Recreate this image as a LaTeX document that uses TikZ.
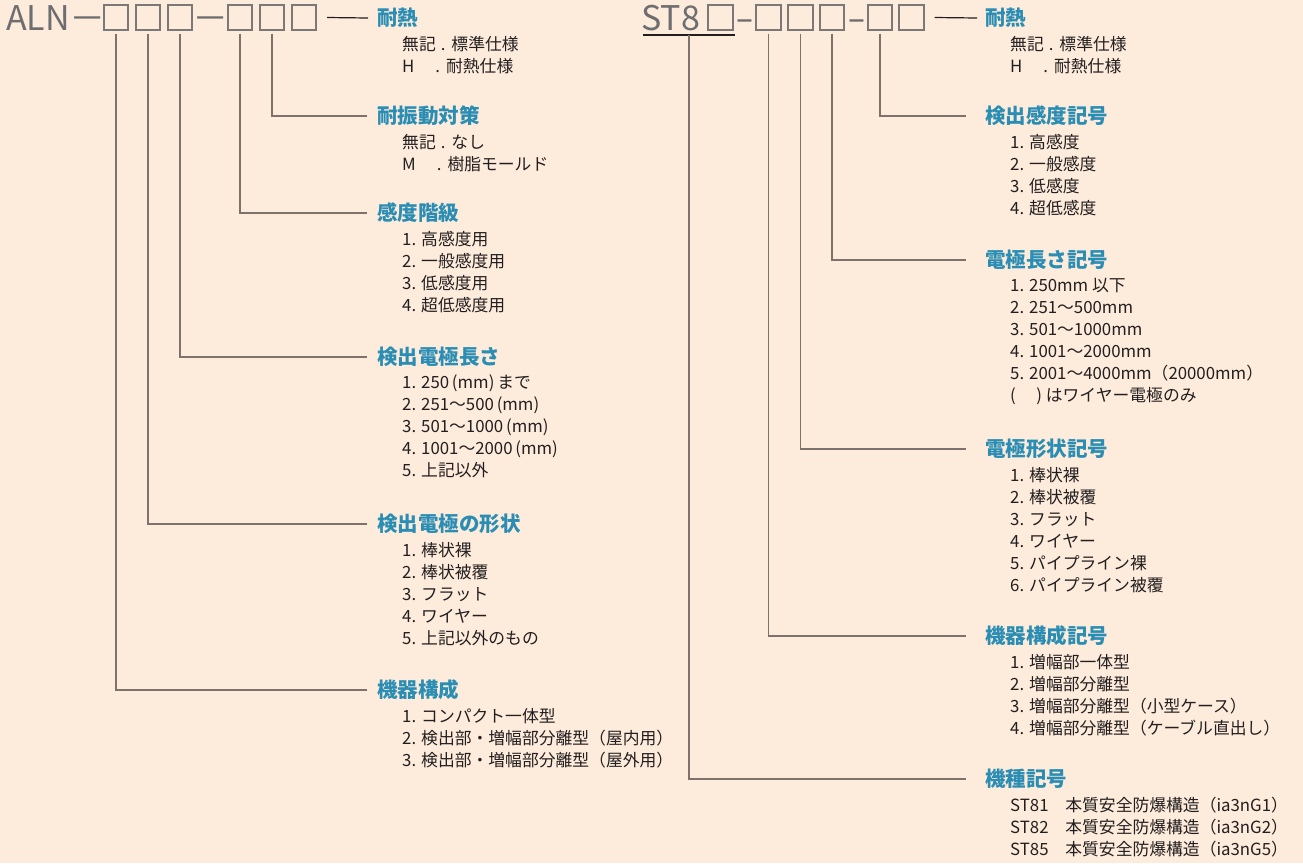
\documentclass[tikz,border=0pt]{standalone}
\usepackage{fontspec}
\setmainfont{Noto Sans CJK JP}
\usepackage{tikz}

\definecolor{paper}{HTML}{FDEBDB}
\definecolor{headblue}{HTML}{2A8DB4}
\definecolor{codegray}{HTML}{6E6E70}
\definecolor{boxgray}{HTML}{7A7879}
\definecolor{leadgray}{HTML}{7D726C}
\definecolor{inkdark}{HTML}{231F20}

\tikzset{
  codetext/.style={inner sep=0pt, text=codegray, font=\fontsize{34}{34}\selectfont},
  codedash/.style={anchor=base, inner sep=0pt, text=codegray, font=\fontsize{34}{34}\selectfont},
  codebox/.style={draw=boxgray, line width=1.6pt, minimum size=24.5pt, inner sep=0pt},
  head/.style={anchor=west, inner sep=0pt, text=headblue, font=\fontsize{20.5}{20.5}\selectfont\bfseries},
  items/.style={anchor=north west, inner sep=0pt, align=left, text=inkdark, font=\fontsize{16.8}{22}\selectfont},
  lead/.style={draw=leadgray, line width=1.2pt},
  darklead/.style={draw=inkdark, line width=1.2pt},
}

\begin{document}
\begin{tikzpicture}[x=1pt, y=-1pt]
  % Background
  \fill[paper] (0,0) rectangle (1303,863);
  \useasboundingbox (0,0) rectangle (1303,863);

  % Left code ALN
  \node[codetext, anchor=west] (aln) at (6,18) {ALN};
  \node[codedash] (adash1) at (87.5,30) {\scalebox{1.6}[1]{−}};
  \node[codebox] (abox1) at (116,17.5) {};
  \node[codebox] (abox2) at (148,17.5) {};
  \node[codebox] (abox3) at (180,17.5) {};
  \node[codedash] (adash2) at (211,30) {\scalebox{1.6}[1]{−}};
  \node[codebox] (abox4) at (240,17.5) {};
  \node[codebox] (abox5) at (272,17.5) {};
  \node[codebox] (abox6) at (304,17.5) {};

  % Left headings
  \node[head] (lheat) at (377,18) {耐熱};
  \node[head] (lvib) at (377,116) {耐振動対策};
  \node[head] (lsens) at (377,213) {感度階級};
  \node[head] (llen) at (377,357) {検出電極長さ};
  \node[head] (lshape) at (377,524) {検出電極の形状};
  \node[head] (lconf) at (377,690) {機器構成};

  % Left items
  \node[items] (lheatitems) at (402,36) {無記\hspace{5pt}.\hspace{6pt}標準仕様\\H\hspace{21pt}.\hspace{6pt}耐熱仕様};
  \node[items] (lvibitems) at (402,134) {無記\hspace{5pt}.\hspace{6pt}なし\\M\hspace{21pt}.\hspace{6pt}樹脂モールド};
  \node[items] (lsensitems) at (402,231) {1. 高感度用\\2. 一般感度用\\3. 低感度用\\4. 超低感度用};
  \node[items] (llenitems) at (402,375) {1. 250\,(mm)\,まで\\2. 251～500\,(mm)\\3. 501～1000\,(mm)\\4. 1001～2000\,(mm)\\5. 上記以外};
  \node[items] (lshapeitems) at (402,542) {1. 棒状裸\\2. 棒状被覆\\3. フラット\\4. ワイヤー\\5. 上記以外のもの};
  \node[items] (lconfitems) at (402,708) {1. コンパクト一体型\\2. 検出部・増幅部分離型（屋内用）\\3. 検出部・増幅部分離型（屋外用）};

  % Left leaders
  \draw[darklead] ([xshift=10pt]abox6.east) -- ([xshift=-9pt]lheat.west);
  \draw[lead] ([yshift=-3pt]abox5.south) |- ([xshift=-10pt]lvib.west);
  \draw[lead] ([yshift=-3pt]abox4.south) |- ([xshift=-10pt]lsens.west);
  \draw[lead] ([yshift=-3pt]abox3.south) |- ([xshift=-10pt]llen.west);
  \draw[lead] ([yshift=-3pt]abox2.south) |- ([xshift=-10pt]lshape.west);
  \draw[lead] ([yshift=-3pt]abox1.south) |- ([xshift=-10pt]lconf.west);

  % Right code ST8
  \node[codetext, anchor=west] (st8) at (641,18) {ST8};
  \node[codebox] (sbox1) at (720.5,17.5) {};
  \node[codedash] (sdash1) at (745,30) {\scalebox{1.6}[1]{-}};
  \node[codebox] (sbox2) at (768.5,17.5) {};
  \node[codebox] (sbox3) at (800.5,17.5) {};
  \node[codebox] (sbox4) at (832,17.5) {};
  \node[codedash] (sdash2) at (856.5,30) {\scalebox{1.6}[1]{-}};
  \node[codebox] (sbox5) at (880,17.5) {};
  \node[codebox] (sbox6) at (911.5,17.5) {};
  \coordinate (ulleft) at (643,35);
  \coordinate (ulmid) at (689,35);
  \coordinate (ulright) at (735,35);
  \draw[darklead] (ulleft) -- (ulright);

  % Right headings
  \node[head] (rheat) at (985,18) {耐熱};
  \node[head] (rsens) at (985,116) {検出感度記号};
  \node[head] (rlen) at (985,260) {電極長さ記号};
  \node[head] (rshape) at (985,449) {電極形状記号};
  \node[head] (rconf) at (985,636) {機器構成記号};
  \node[head] (rtype) at (985,779) {機種記号};

  % Right items
  \node[items] (rheatitems) at (1010,36) {無記\hspace{5pt}.\hspace{6pt}標準仕様\\H\hspace{21pt}.\hspace{6pt}耐熱仕様};
  \node[items] (rsensitems) at (1010,134) {1. 高感度\\2. 一般感度\\3. 低感度\\4. 超低感度};
  \node[items] (rlenitems) at (1010,278) {1. 250mm 以下\\2. 251～500mm\\3. 501～1000mm\\4. 1001～2000mm\\5. 2001～4000mm（20000mm）\\(　 ) はワイヤー電極のみ};
  \node[items] (rshapeitems) at (1010,467) {1. 棒状裸\\2. 棒状被覆\\3. フラット\\4. ワイヤー\\5. パイプライン裸\\6. パイプライン被覆};
  \node[items] (rconfitems) at (1010,654) {1. 増幅部一体型\\2. 増幅部分離型\\3. 増幅部分離型（小型ケース）\\4. 増幅部分離型（ケーブル直出し）};
  \node[items] (rtypeitems) at (1010,797) {ST81　本質安全防爆構造（ia3nG1）\\ST82　本質安全防爆構造（ia3nG2）\\ST85　本質安全防爆構造（ia3nG5）};

  % Right leaders
  \draw[darklead] ([xshift=10pt]sbox6.east) -- ([xshift=-8pt]rheat.west);
  \draw[lead] ([yshift=-3pt]sbox5.south) |- ([xshift=-19pt]rsens.west);
  \draw[lead] ([yshift=-3pt]sbox4.south) |- ([xshift=-19pt]rlen.west);
  \draw[lead] ([yshift=-3pt]sbox3.south) |- ([xshift=-19pt]rshape.west);
  \draw[lead] ([yshift=-3pt]sbox2.south) |- ([xshift=-19pt]rconf.west);
  \draw[lead] (ulmid) |- ([xshift=-19pt]rtype.west);
\end{tikzpicture}
\end{document}
